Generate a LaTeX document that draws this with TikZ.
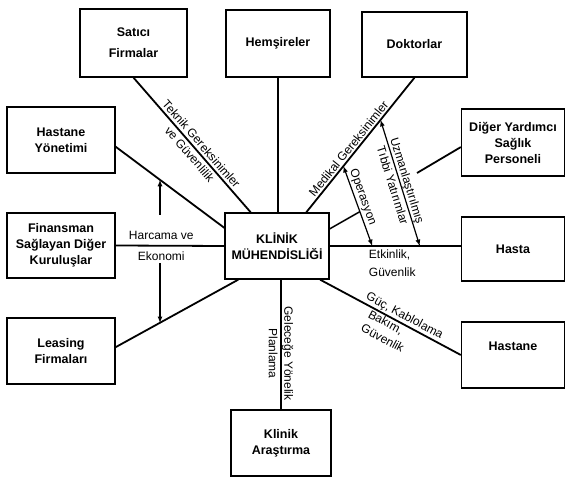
\documentclass[tikz,border=0pt]{standalone}
\usepackage{fontspec}
\setmainfont{Liberation Sans}
\usetikzlibrary{arrows,positioning,calc}

\tikzset{
  box/.style={draw, line width=1.3pt, align=center, inner sep=0pt,
    font=\bfseries\fontsize{12.5}{16}\selectfont,
    minimum width=104pt, minimum height=66pt},
  link/.style={line width=1.8pt},
  lbl/.style={font=\fontsize{12}{15.5}\selectfont, align=center, inner sep=1.5pt},
  harrow/.style={line width=1.2pt, -latex},
  dblarrow/.style={line width=1.2pt, latex-latex},
}

\begin{document}
\begin{tikzpicture}[x=1pt, y=-1pt]
    \useasboundingbox (0,0) rectangle (568,478);

    % centre
    \node[box] (km) at (277,246) {KLİNİK\\MÜHENDİSLİĞİ};

    % top row
    \node[box, minimum width=107pt, minimum height=68pt] (sat) at (133.5,43) {Satıcı\\[5pt]Firmalar};
    \node[box, minimum height=67pt] (hem) at (278,43.5) {Hemşireler};
    \node[box, minimum width=105pt, minimum height=65pt] (dok) at (414.5,44.5) {Doktorlar};

    % left column
    \node[box, minimum width=108pt] (hy) at (61,140) {Hastane\\Yönetimi};
    \node[box, minimum width=108pt, minimum height=65pt] (fin) at (61,245.5) {Finansman\\Sağlayan Diğer\\Kuruluşlar};
    \node[box, minimum width=108pt] (lea) at (61,351) {Leasing\\Firmaları};

    % right column
    \node[box, minimum width=103pt, minimum height=67pt] (dig) at (513,142.5) {Diğer Yardımcı\\Sağlık\\Personeli};
    \node[box, minimum width=103pt, minimum height=64pt] (has) at (513,249) {Hasta};
    \node[box, minimum width=103pt, text depth=18pt] (hst) at (513,355) {Hastane};

    % bottom
    \node[box, minimum width=100pt] (ka) at (281,443) {Klinik\\Araştırma};

    % spokes
    \draw[link] (sat.south) -- (km.128)
        node[lbl, sloped, pos=0.53] {Teknik Gereksinimler\\ve Güvenlilik};
    \draw[link] (hem.south) -- (hem.south |- km.north);
    \draw[link] (km.49) -- (dok.south)
        coordinate[pos=0.343] (opt) coordinate[pos=0.686] (uzt)
        node[lbl, sloped, above, pos=0.44] {Medikal Gereksinimler};
    \draw[link] (hy.-7) -- (km.161) coordinate[pos=0.409] (hyx);
    \draw[link] (fin.east) -- (km.west)
        node[lbl, pos=0.42] {Harcama ve\\[5pt]Ekonomi};
    \draw[link] (lea.4) -- (km.221) coordinate[pos=0.359] (leax);
    \draw[link] (km.east) -- (km.east -| has.west)
        coordinate[pos=0.325] (opb) coordinate[pos=0.687] (uzb)
        node[lbl, align=left, anchor=north west, inner sep=3pt, pos=0.27] {Etkinlik,\\[2pt]Güvenlik};
    \draw[link] (km.322) -- (hst.west)
        node[lbl, sloped, anchor=south west, inner sep=1pt, pos=0.295] {Güç, Kablolama}
        node[lbl, sloped, align=left, anchor=north west, inner sep=1pt, pos=0.36] {Bakım,\\Güvenlik};
    \draw[link] (ka.north |- km.south) -- (ka.north)
        node[lbl, sloped, pos=0.57] {Geleceğe Yönelik\\Planlama};

    \coordinate (digend) at (417,173);
    \draw[link] (dig.185) -- (digend);

    % arrows
    \coordinate (hup) at (160,215);
    \coordinate (hdn) at (160,263);
    \draw[harrow] (hup) -- (hup |- hyx);
    \draw[harrow] (hdn) -- (hdn |- leax);

    \draw[dblarrow] (opt) -- (opb) coordinate[pos=0.57] (opm)
        node[lbl, sloped, above, pos=0.42] {Operasyon};
    \draw[line width=1.5pt] (km.18) -- (opm);
    \draw[dblarrow] (uzt) -- (uzb)
        node[lbl, sloped, pos=0.5] {Uzmanlaştırılmış\\Tıbbi Yatırımlar};
\end{tikzpicture}
\end{document}
